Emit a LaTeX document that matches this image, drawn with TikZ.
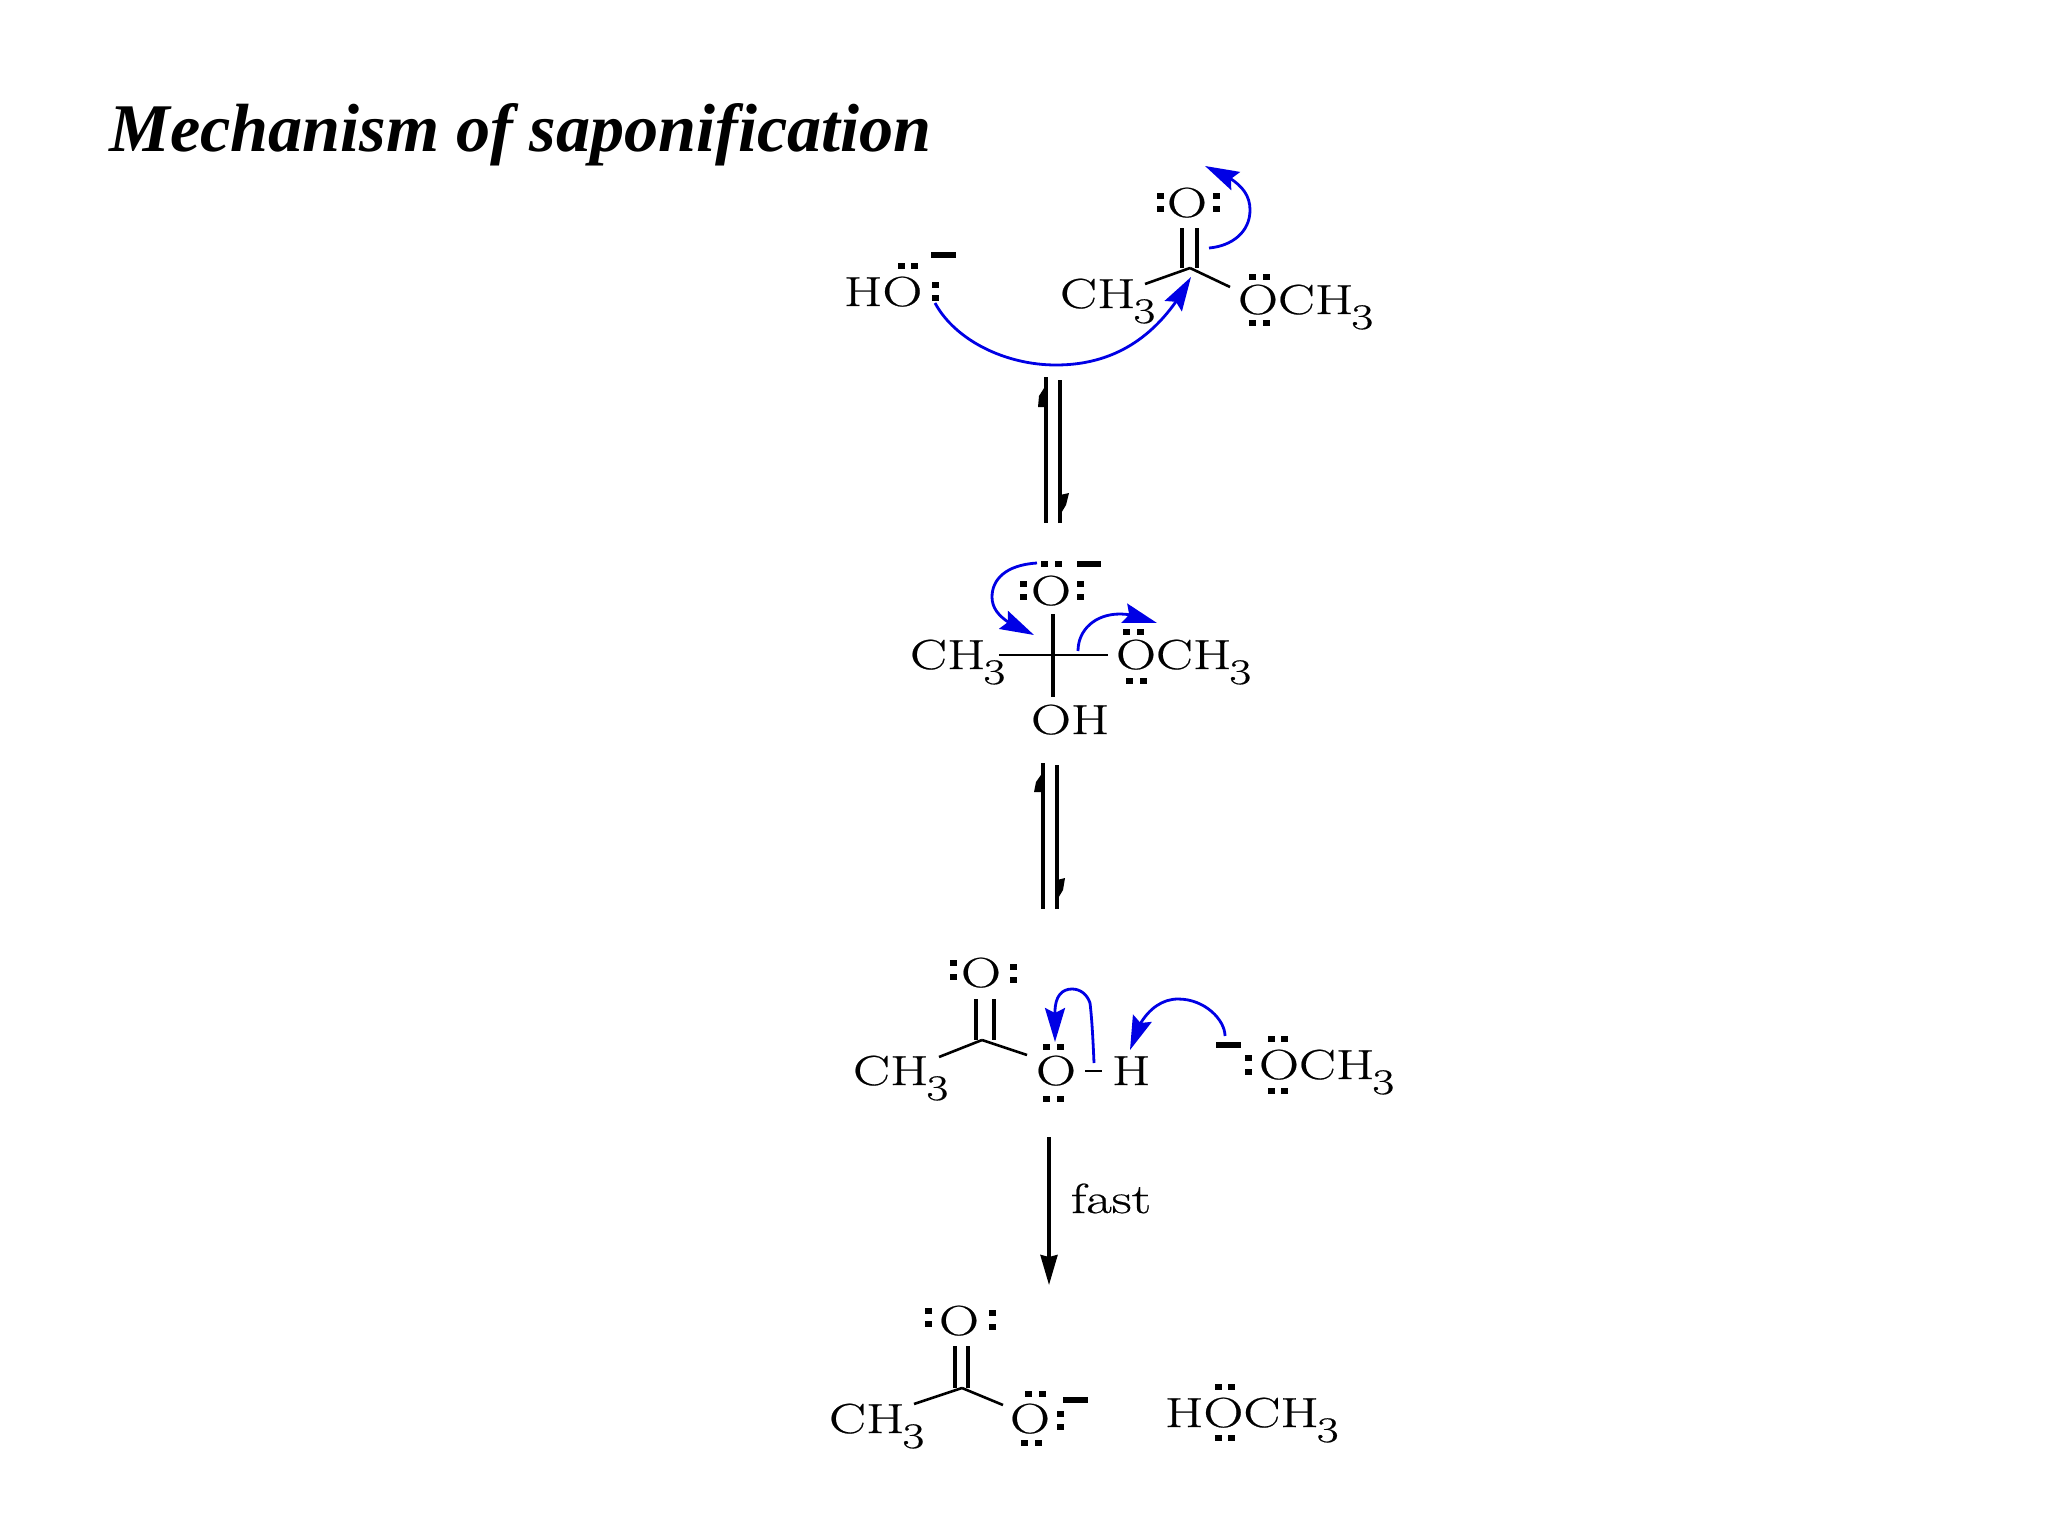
\documentclass[tikz,border=0pt]{standalone}
\usepackage{fontspec}
\setmainfont{Latin Modern Roman}
\newfontfamily\chemf[FakeStretch=1.32,FakeBold=0.5]{Latin Modern Roman}
\newfontfamily\titlef{Liberation Serif}
\usetikzlibrary{arrows.meta,bending}
\newcommand\chemsize{\chemf\fontsize{21}{26}\selectfont}
\newcommand\subsize{\chemf\fontsize{18}{21}\selectfont}
\newcommand\tsub[1]{\kern-1pt\raisebox{-7.5pt}{\subsize #1}}
\newcommand\hdots[3]{\fill (#1-3.5,#3-2.75) rectangle ++(7,5.5); \fill (#2-3.5,#3-2.75) rectangle ++(7,5.5);}
\newcommand\vdotsq[3]{\fill (#1-3.5,#2-2.75) rectangle ++(7,5.5); \fill (#1-3.5,#3-2.75) rectangle ++(7,5.5);}
\newcommand\chminus[3]{\fill (#1,#3-2.75) rectangle (#2,#3+2.75);}
\tikzset{
  chem/.style={inner sep=0pt,outer sep=0pt,anchor=base west,font=\chemsize},
  bond/.style={line width=1.3pt,black},
  dblbond/.style={line width=1.7pt,black},
  eqline/.style={line width=1.7pt,black},
  push/.style={line width=1.4pt,blue!90!black,-{Stealth[length=17pt,width=10pt,inset=2.5pt,flex]}},
}
\begin{document}
\begin{tikzpicture}[x=0.5pt,y=-0.5pt]
\useasboundingbox (0,0) rectangle (2048,1536);
\fill[white] (0,0) rectangle (2048,1536);
\node (title) [inner sep=0pt,anchor=base west,font={\titlef\bfseries\itshape\fontsize{34.1}{40}\selectfont}] at (109,151) {Mechanism of saponification};

% molecule 1
\node (hoa) [chem] at (844,306) {HO};
\node (cha) [chem] at (1060,308) {CH\tsub{3}};
\node (oa) [chem] at (1167,217) {O};
\node (ocha) [chem] at (1238,314) {OCH\tsub{3}};
\hdots{901}{914}{266}
\vdotsq{935}{285}{298}
\chminus{931}{956}{255}
\vdotsq{1160}{196}{209}
\vdotsq{1216}{196}{209}
\hdots{1252}{1266}{277}
\hdots{1252}{1266}{323}
\coordinate (ca) at (1190,268);
\draw[dblbond] (1182,228) -- (1182,268);
\draw[dblbond] (1197,228) -- (1197,268);
\coordinate (cal) at (1145,284);
\coordinate (car) at (1230,287);
\draw[bond] (ca) -- (cal);
\draw[bond] (ca) -- (car);
\coordinate (pa1) at (935,303);
\coordinate (pa2) at (1191,277);
\draw[push] (pa1) .. controls (955,340) and (1005,365) .. (1056,365) .. controls (1105,365) and (1155,345) .. (pa2);
\coordinate (pb1) at (1209,248);
\coordinate (pb2) at (1205,166);
\draw[push] (pb1) .. controls (1232,246) and (1250,232) .. (1250,210) .. controls (1250,190) and (1235,178) .. (pb2);

% equilibrium 1
\coordinate (e1a) at (1046,377);
\coordinate (e1b) at (1046,523);
\coordinate (e1c) at (1060,523);
\coordinate (e1d) at (1060,380);
\draw[eqline] (e1a) -- (e1b);
\draw[eqline] (e1c) -- (e1d);
\fill (1046,385) -- (1046,407) -- (1038,407) -- (1039,396) -- cycle;
\fill (1060,515) -- (1060,495) -- (1069,493) -- (1066,505) -- cycle;

% molecule 2
\node (ob) [chem] at (1031,605) {O};
\node (chb) [chem] at (910,669) {CH\tsub{3}};
\node (ochb) [chem] at (1116,669) {OCH\tsub{3}};
\node (ohb) [chem] at (1031,734) {OH};
\hdots{1044}{1058}{564}
\chminus{1077}{1101}{564}
\vdotsq{1023}{584}{597}
\vdotsq{1080}{584}{597}
\hdots{1126}{1140}{632}
\hdots{1129}{1143}{681}
\coordinate (cbt) at (1053,614);
\coordinate (cbb) at (1053,697);
\coordinate (cbl) at (999,655);
\coordinate (cbr) at (1108,655);
\draw[dblbond] (cbt) -- (cbb);
\draw[bond] (cbl) -- (cbr);
\coordinate (pc1) at (1037,563);
\coordinate (pc2) at (1034,635);
\draw[push] (pc1) .. controls (1005,565) and (992,580) .. (992,597) .. controls (992,615) and (1010,625) .. (pc2);
\coordinate (pd1) at (1078,651);
\coordinate (pd2) at (1157,623);
\draw[push] (pd1) .. controls (1078,630) and (1095,614) .. (1120,614) .. controls (1132,614) and (1145,618) .. (pd2);

% equilibrium 2
\coordinate (e2a) at (1043,763);
\coordinate (e2b) at (1043,909);
\coordinate (e2c) at (1057,909);
\coordinate (e2d) at (1057,765);
\draw[eqline] (e2a) -- (e2b);
\draw[eqline] (e2c) -- (e2d);
\fill (1043,772) -- (1043,792) -- (1034,792) -- (1036,782) -- cycle;
\fill (1057,900) -- (1057,880) -- (1065,878) -- (1063,890) -- cycle;

% molecule 3
\node (oc) [chem] at (961,987) {O};
\node (chc) [chem] at (853,1085) {CH\tsub{3}};
\node (oh) [chem] at (1036,1085) {O};
\node (hc) [chem] at (1112,1085) {H};
\node (ochc) [chem] at (1259,1079) {OCH\tsub{3}};
\vdotsq{953}{963}{977}
\vdotsq{1013}{967}{980}
\coordinate (cc) at (982,1040);
\draw[dblbond] (976,999) -- (976,1040);
\draw[dblbond] (994,999) -- (994,1040);
\coordinate (ccl) at (939,1057);
\coordinate (ccr) at (1027,1055);
\draw[bond] (cc) -- (ccl);
\draw[bond] (cc) -- (ccr);
\hdots{1046}{1060}{1047}
\hdots{1046}{1060}{1099}
\coordinate (ohl) at (1085,1071);
\coordinate (ohr) at (1102,1071);
\draw[bond] (ohl) -- (ohr);
\chminus{1216}{1241}{1045}
\vdotsq{1248}{1058}{1072}
\hdots{1271}{1284}{1039}
\hdots{1271}{1284}{1091}
\coordinate (pe1) at (1094,1063);
\coordinate (pe2) at (1055,1042);
\draw[push] (pe1) .. controls (1093,1040) and (1092,1020) .. (1090,1003) .. controls (1087,994) and (1080,989) .. (1072,989) .. controls (1062,989) and (1055,996) .. (1055,1012) -- (pe2);
\coordinate (pf1) at (1225,1036);
\coordinate (pf2) at (1130,1050);
\draw[push] (pf1) .. controls (1225,1020) and (1205,999) .. (1178,999) .. controls (1155,999) and (1137,1020) .. (pf2);

% fast arrow
\coordinate (fa) at (1049,1137);
\coordinate (fb) at (1049,1285);
\draw[dblbond,-{Stealth[length=15pt,width=8.5pt,inset=1pt]}] (fa) -- (fb);
\node (fast) [chem] at (1071,1213) {fast};

% molecule 4
\node (od) [chem] at (939,1335) {O};
\node (chd) [chem] at (829,1433) {CH\tsub{3}};
\node (oe) [chem] at (1010,1433) {O};
\node (hoch) [chem] at (1165,1427) {HOCH\tsub{3}};
\vdotsq{928}{1311}{1324}
\vdotsq{992}{1313}{1327}
\coordinate (cd) at (962,1388);
\draw[dblbond] (955,1346) -- (955,1388);
\draw[dblbond] (968,1346) -- (968,1388);
\coordinate (cdl) at (914,1404);
\coordinate (cdr) at (1003,1405);
\draw[bond] (cd) -- (cdl);
\draw[bond] (cd) -- (cdr);
\hdots{1028}{1042}{1394}
\hdots{1024}{1038}{1443}
\vdotsq{1060}{1414}{1427}
\chminus{1063}{1088}{1400}
\hdots{1218}{1231}{1387}
\hdots{1218}{1231}{1438}
\end{tikzpicture}
\end{document}
